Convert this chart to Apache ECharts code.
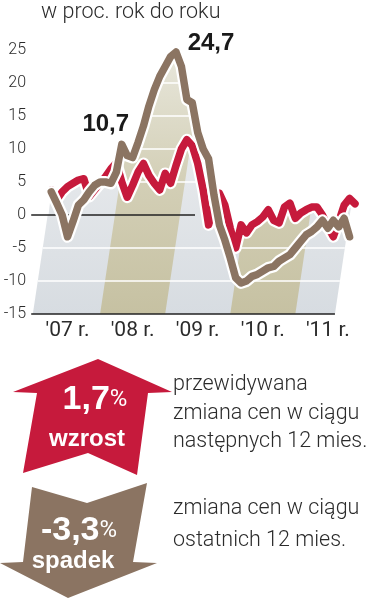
<!DOCTYPE html>
<html><head><meta charset="utf-8">
<script src="https://cdn.jsdelivr.net/npm/echarts@6/dist/echarts.min.js"></script>
<style>html,body{margin:0;padding:0;background:#fff}#c{width:372px;height:605px}</style>
</head><body><div id="c"></div><script>
// ---------- data ----------
const titleText = 'w proc. rok do roku';
const yTicks = [-15, -10, -5, 0, 5, 10, 15, 20, 25];
const xLabelMonths = [6, 18, 30, 42, 54];           // months since Jan 2007
const xLabels = ["'07 r.", "'08 r.", "'09 r.", "'10 r.", "'11 r."];
const bandYears = [2008, 2010];
const backgroundMonths = [-0.4, 55.3];
const zeroLineMonths = [-0.7, 29.5];
const redStart = 3;   // expected price change (next 12 months)
const redValues = [3.8, 2.3, 3.5, 4.3, 4.8, 5.3, 5.5, 2.8, 3.8, 4.8, 5.8, 7.0, 7.9, 5.0, 2.7,
  4.5, 6.5, 7.8, 6.0, 4.8, 3.8, 6.3, 4.8, 7.5, 10.0, 11.4, 10.5, 7.8, 3.8, -1.5, 1.5, 3.3, 1.5,
  -2.0, -5.0, -1.5, -2.7, -1.5, -1.0, -0.3, 0.8, -0.8, -1.2, 1.2, 1.8, -0.5, 0.3, 0.8, 1.2, 1.2,
  0.0, -1.8, -3.3, -1.0, 1.5, 2.5, 1.7];
const brownStart = 3; // price change over last 12 months
const brownValues = [3.5, 1.8, 0.0, -3.3, -1.0, 1.5, 2.3, 3.5, 4.5, 5.0, 5.0, 4.8, 6.5, 10.7, 9.0,
  8.7, 11.0, 13.5, 16.5, 19.0, 21.0, 22.5, 24.0, 24.7, 22.5, 17.5, 17.0, 12.5, 10.0, 8.5, 3.0, -1.5,
  -3.8, -6.5, -9.5, -10.3, -10.0, -9.3, -9.0, -8.5, -8.0, -7.8, -7.0, -6.5, -6.0, -5.0, -4.0, -3.0,
  -2.5, -1.8, -0.8, -2.0, -0.8, -1.8, -0.5, -3.3];
const brownMarks = [10.7, 24.7];
const expectedChange = 1.7;
const pastChange = -3.3;
const expectedText = ['przewidywana', 'zmiana cen w ciągu', 'następnych 12 mies.'];
const pastText = ['zmiana cen w ciągu', 'ostatnich 12 mies.'];

// ---------- styles ----------
const RED = '#c61a3c', BROWN = '#8b7462', TXT = '#2b2b2b';
const LIGHT = 'Roboto, "Liberation Sans", sans-serif';
const BOLD = '"Liberation Sans", Arial, sans-serif';
const NARROW = '"Liberation Sans Narrow", "Liberation Sans", sans-serif';
const fmt = v => v.toFixed(1).replace('.', ',');

const redData = redValues.map((v, i) => [redStart + i, v]);
const brownData = brownValues.map((v, i) => [brownStart + i, v]);

// upper envelope of both lines (for the background silhouette)
const envelope = [[zeroLineMonths[0], 0], [redStart - 0.5, 0]];
redData.forEach(([m, v]) => {
  const bi = m - brownStart;
  const b = (bi >= 0 && bi < brownValues.length) ? brownValues[bi] : -Infinity;
  envelope.push([m, Math.max(v, b)]);
});
const lastEnv = envelope[envelope.length - 1];

function renderBackground(params, api) {
  const skew = 0.15;
  const yb = api.coord([0, yTicks[0]])[1];
  const pt = (m, v) => { const p = api.coord([m, v]); return [p[0] + skew * (yb - p[1]), p[1]]; };
  const yMin = yTicks[0], yMax = yTicks[yTicks.length - 1];
  const quad = (m0, m1, fill) => ({
    type: 'polygon',
    shape: { points: [pt(m0, yMin), pt(m1, yMin), pt(m1, yMax), pt(m0, yMax)] },
    style: { fill: fill }
  });
  const gray = new echarts.graphic.LinearGradient(0, 0, 0, 1, [
    { offset: 0, color: '#f0f1f1' }, { offset: 0.5, color: '#e4e7ea' }, { offset: 1, color: '#d7dce1' }]);
  const khaki = new echarts.graphic.LinearGradient(0, 0, 0, 1, [
    { offset: 0, color: '#e8e7dc' }, { offset: 0.5, color: '#d3cfb6' }, { offset: 1, color: '#c6c1a2' }]);
  const children = [quad(backgroundMonths[0], backgroundMonths[1], gray)];
  bandYears.forEach(y => children.push(quad((y - 2007) * 12, (y - 2006) * 12, khaki)));
  yTicks.filter(v => v > yMin && v !== 0).forEach(v => {
    const a = pt(backgroundMonths[0], v), b = pt(backgroundMonths[1], v);
    children.push({ type: 'line', shape: { x1: a[0], y1: a[1], x2: b[0], y2: b[1] },
      style: { stroke: '#ffffff', lineWidth: 1.5 } });
  });
  // white mask above the envelope
  const pts = envelope.map(([m, v]) => api.coord([m, v]));
  const topY = api.coord([0, yMax])[1] - 4;
  const endX = api.coord([lastEnv[0], 0])[0] + 40;
  pts.push([endX, pts[pts.length - 1][1]]);
  pts.push([endX, topY]);
  pts.push([pts[0][0], topY]);
  children.push({ type: 'polygon', shape: { points: pts }, style: { fill: '#ffffff' } });
  // zero line and base line
  const z0 = api.coord([zeroLineMonths[0], 0]), z1 = api.coord([zeroLineMonths[1], 0]);
  children.push({ type: 'line', shape: { x1: z0[0], y1: z0[1], x2: z1[0], y2: z1[1] },
    style: { stroke: '#222', lineWidth: 1.3 } });
  const b0 = api.coord([zeroLineMonths[0], yMin]), b1 = api.coord([backgroundMonths[1], yMin]);
  children.push({ type: 'line', shape: { x1: b0[0], y1: b0[1], x2: b1[0], y2: b1[1] },
    style: { stroke: '#222', lineWidth: 1.5 } });
  return { type: 'group', children: children };
}

function line(data, color, width, z) {
  return { type: 'line', data: data, symbol: 'none', z: z, silent: true, animation: false,
    lineStyle: { color: color, width: width, join: 'round', cap: 'round' } };
}

const brownMain = line(brownData, BROWN, 7.5, 6);
brownMain.markPoint = {
  symbol: 'circle', symbolSize: 1, itemStyle: { color: 'rgba(0,0,0,0)' },
  data: brownMarks.map((v, k) => {
    const i = brownValues.indexOf(v);
    return { coord: [brownStart + i, v], value: fmt(v),
      label: { offset: k === 0 ? [-16, -20] : [35, -9] } };
  }),
  label: { show: true, formatter: '{c}', color: '#1a1a1a', fontFamily: BOLD,
    fontWeight: 'bold', fontSize: 24 }
};

const chart = echarts.init(document.getElementById('c'), null, { renderer: 'canvas' });
chart.setOption({
  animation: false,
  grid: { left: 35, right: 17, top: 50, bottom: 291 },
  xAxis: {
    type: 'value', min: 0, max: 59,
    axisLine: { show: false }, axisTick: { show: false }, splitLine: { show: false },
    axisLabel: { customValues: xLabelMonths, formatter: v => xLabels[xLabelMonths.indexOf(v)],
      color: TXT, fontFamily: LIGHT, fontSize: 21, margin: 6 }
  },
  yAxis: {
    type: 'value', min: -15, max: 25, interval: 5,
    axisLine: { show: false }, axisTick: { show: false }, splitLine: { show: false },
    axisLabel: { color: TXT, fontFamily: LIGHT, fontWeight: 300, fontSize: 16, margin: 9 }
  },
  series: [
    { type: 'custom', data: [[0, 0]], renderItem: renderBackground, z: 1, silent: true, clip: false },
    line(redData, '#ffffff', 12, 3),
    line(redData, RED, 7.5, 4),
    line(brownData, '#ffffff', 12, 5),
    brownMain
  ],
  graphic: [
    { type: 'text', left: 41, top: 2, z: 10,
      style: { text: titleText, font: '300 21.5px ' + LIGHT, fill: TXT } },
    { type: 'polygon', z: 10, shape: { points: [[98,359],[172,392],[148,393],[137,475],[88,453],[23,473],[37,393],[13,392]] },
      style: { fill: RED } },
    { type: 'polygon', z: 10, shape: { points: [[32,487],[87,503],[147,483],[133,562],[157,563],[68,598],[0,563],[23,562]] },
      style: { fill: BROWN } },
    { type: 'text', x: 95, y: 400, z: 11,
      style: { text: '{b|' + fmt(expectedChange) + '}{p|%}', align: 'center', verticalAlign: 'middle',
        rich: { b: { font: 'bold 34px ' + NARROW, fill: '#fff' }, p: { font: '400 24px ' + LIGHT, fill: '#fff' } } } },
    { type: 'text', x: 87, y: 439, z: 11,
      style: { text: 'wzrost', font: 'bold 24px ' + BOLD, fill: '#fff', align: 'center', verticalAlign: 'middle' } },
    { type: 'text', x: 79, y: 531, z: 11,
      style: { text: '{b|' + fmt(pastChange) + '}{p|%}', align: 'center', verticalAlign: 'middle',
        rich: { b: { font: 'bold 34px ' + NARROW, fill: '#fff' }, p: { font: '400 24px ' + LIGHT, fill: '#fff' } } } },
    { type: 'text', x: 73, y: 561, z: 11,
      style: { text: 'spadek', font: 'bold 24px ' + BOLD, fill: '#fff', align: 'center', verticalAlign: 'middle' } },
    ...expectedText.map((t, i) => ({ type: 'text', x: 173, y: 385 + i * 28.5, z: 11,
      style: { text: t, font: '300 21.5px ' + LIGHT, fill: TXT, verticalAlign: 'middle' } })),
    ...pastText.map((t, i) => ({ type: 'text', x: 173, y: 509 + i * 32, z: 11,
      style: { text: t, font: '300 21.5px ' + LIGHT, fill: TXT, verticalAlign: 'middle' } }))
  ]
});
</script></body></html>
